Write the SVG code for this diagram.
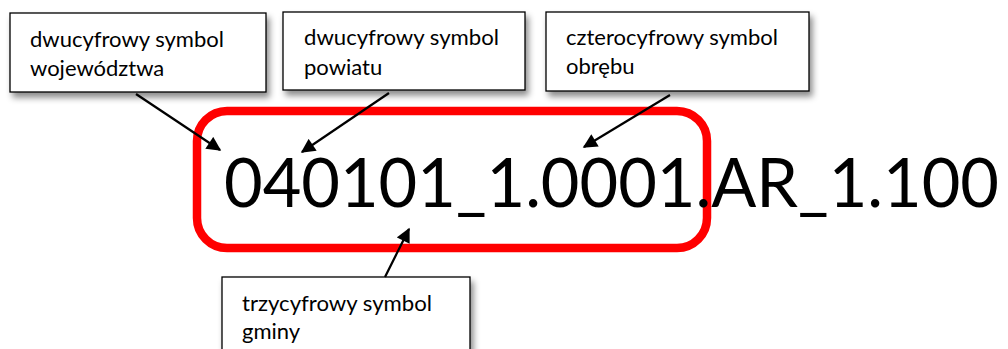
<svg xmlns="http://www.w3.org/2000/svg" width="1008" height="349" viewBox="0 0 1008 349">
<style>
.box{fill:#fff;stroke:#000;stroke-width:1.3;filter:url(#sh)}
.lbl{font-family:Lato,"Open Sans","Liberation Sans",sans-serif;font-size:22px;fill:#000}
.big{font-family:Lato,"Open Sans","Liberation Sans",sans-serif;font-size:68px;fill:#000}
.con{stroke:#000;stroke-width:2.2;fill:none;marker-end:url(#ah)}
</style>
<defs>
<filter id="sh" x="-10%" y="-20%" width="130%" height="150%">
<feDropShadow dx="3" dy="5" stdDeviation="3" flood-color="#000" flood-opacity="0.45"/>
</filter>
<marker id="ah" viewBox="0 0 10 10" refX="9" refY="5" markerWidth="7" markerHeight="6.5" orient="auto" markerUnits="strokeWidth">
<path d="M0,0 L10,5 L0,10 z" fill="#000"/>
</marker>
</defs>
<rect width="1008" height="349" fill="#fff"/>
<g id="code">
<rect x="197" y="111" width="510" height="137" rx="30" ry="30" fill="none" stroke="#ff0000" stroke-width="8.5"/>
<text class="big" x="224" y="207" textLength="775" lengthAdjust="spacingAndGlyphs">040101_1.0001.AR_1.100</text>
</g>
<g id="n1">
<rect class="box" x="10" y="13" width="256" height="79"/>
<text class="lbl" x="30" y="47" textLength="194" lengthAdjust="spacingAndGlyphs">dwucyfrowy symbol</text>
<text class="lbl" x="30" y="76">województwa</text>
</g>
<g id="n2">
<rect class="box" x="283" y="12" width="242" height="78"/>
<text class="lbl" x="304" y="45" textLength="195" lengthAdjust="spacingAndGlyphs">dwucyfrowy symbol</text>
<text class="lbl" x="304" y="75">powiatu</text>
</g>
<g id="n3">
<rect class="box" x="546" y="12" width="263" height="79"/>
<text class="lbl" x="566" y="45" textLength="212" lengthAdjust="spacingAndGlyphs">czterocyfrowy symbol</text>
<text class="lbl" x="566" y="74">obrębu</text>
</g>
<g id="n4">
<rect class="box" x="222" y="277" width="248" height="90"/>
<text class="lbl" x="242" y="311" textLength="190" lengthAdjust="spacingAndGlyphs">trzycyfrowy symbol</text>
<text class="lbl" x="242" y="339">gminy</text>
</g>
<g id="connectors">
<line class="con" x1="136" y1="94" x2="220" y2="150"/>
<line class="con" x1="389" y1="93" x2="302" y2="152"/>
<line class="con" x1="670" y1="95" x2="584" y2="147"/>
<line class="con" x1="385" y1="277" x2="409" y2="229"/>
</g>
</svg>
